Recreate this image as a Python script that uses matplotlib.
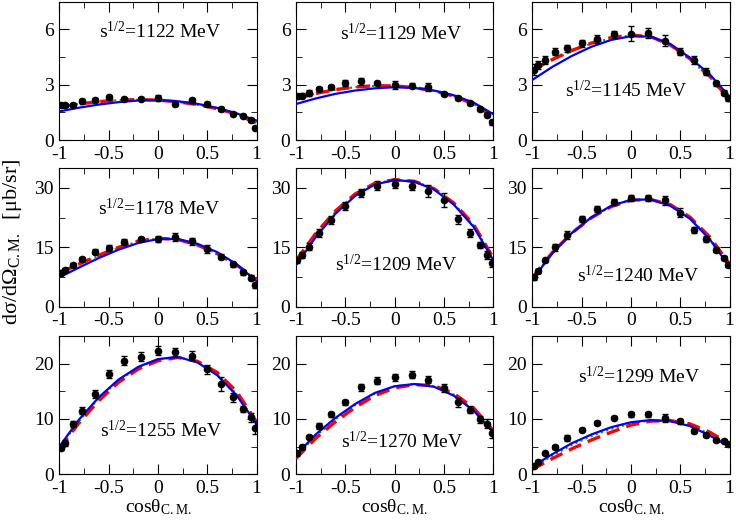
import matplotlib
matplotlib.use("Agg")
import matplotlib.pyplot as plt
from matplotlib.ticker import MultipleLocator

plt.rcParams['font.family'] = ['Liberation Serif', 'DejaVu Serif']
plt.rcParams['mathtext.fontset'] = 'stix'
plt.rcParams['axes.unicode_minus'] = False

# measured angles (cos theta) of the data points
cos_data = [-0.985, -0.940, -0.866, -0.766, -0.643, -0.500, -0.342, -0.174, 0.0,
            0.174, 0.342, 0.500, 0.643, 0.766, 0.866, 0.940, 0.985]
# grid of the model curves
cos_curve = [-1.0, -0.8, -0.6, -0.4, -0.2, 0.0, 0.2, 0.4, 0.6, 0.8, 1.0]

energies = [1122, 1129, 1145, 1178, 1209, 1240, 1255, 1270, 1299]

data_1122 = [1.91, 1.87, 1.91, 2.13, 2.18, 2.33, 2.24, 2.24, 2.27, 1.96, 2.15, 1.96, 1.67, 1.42, 1.31, 1.08, 0.67]
data_1129 = [2.36, 2.40, 2.55, 2.76, 2.87, 3.09, 3.18, 3.09, 3.00, 2.95, 2.87, 2.49, 2.27, 1.98, 1.67, 1.36, 0.95]
data_1145 = [3.80, 4.07, 4.34, 4.79, 4.97, 5.24, 5.46, 5.73, 5.75, 5.79, 5.37, 4.79, 4.34, 3.71, 3.07, 2.57, 2.26]
data_1178 = [8.6, 9.2, 10.6, 12.0, 13.9, 14.8, 16.4, 17.1, 17.1, 17.7, 16.5, 14.6, 12.6, 10.7, 8.7, 7.3, 5.4]
data_1209 = [11.7, 13.1, 15.2, 18.6, 22.0, 25.4, 28.7, 30.6, 31.1, 30.6, 29.2, 27.0, 22.1, 18.6, 15.6, 13.1, 11.0]
data_1240 = [7.4, 9.0, 11.8, 15.0, 18.2, 22.1, 24.7, 26.4, 27.5, 27.5, 26.9, 23.8, 19.3, 17.1, 14.4, 12.3, 10.6]
data_1255 = [4.84, 5.67, 9.13, 11.5, 14.5, 18.1, 20.5, 21.25, 22.3, 22.0, 21.4, 19.0, 16.3, 13.9, 11.8, 10.3, 8.4]
data_1270 = [3.77, 4.96, 6.75, 8.7, 10.8, 13.0, 15.7, 16.9, 17.5, 18.0, 17.1, 15.6, 13.0, 11.7, 9.94, 9.16, 7.37]
data_1299 = [1.5, 2.3, 3.76, 4.96, 6.57, 8.06, 9.31, 10.2, 10.8, 10.8, 10.2, 9.55, 7.8, 7.05, 6.15, 6.03, 5.55]

err_1122 = [0.12, 0.10, 0.10, 0.10, 0.10, 0.10, 0.10, 0.10, 0.15, 0.10, 0.12, 0.10, 0.10, 0.08, 0.08, 0.10, 0.10]
err_1129 = [0.12, 0.12, 0.15, 0.12, 0.12, 0.15, 0.18, 0.12, 0.22, 0.15, 0.22, 0.12, 0.12, 0.10, 0.10, 0.10, 0.12]
err_1145 = [0.3, 0.2, 0.2, 0.2, 0.2, 0.2, 0.2, 0.2, 0.4, 0.25, 0.3, 0.2, 0.2, 0.2, 0.15, 0.15, 0.15]
err_1178 = [0.6, 0.5, 0.5, 0.5, 0.6, 0.8, 0.6, 0.6, 0.7, 1.0, 0.8, 1.1, 0.6, 0.6, 0.6, 0.6, 0.6]
err_1209 = [0.7, 0.8, 0.8, 1.0, 1.0, 1.0, 1.0, 1.2, 1.2, 1.2, 1.6, 1.8, 1.2, 1.0, 0.8, 1.0, 1.0]
err_1240 = [0.6, 0.6, 0.6, 0.8, 1.0, 0.8, 0.8, 0.8, 0.8, 0.8, 1.2, 1.2, 0.8, 0.8, 0.6, 0.6, 0.6]
err_1255 = [0.5, 0.5, 0.5, 0.6, 0.8, 0.8, 0.8, 0.8, 0.8, 0.8, 0.8, 0.8, 1.2, 0.8, 0.6, 0.8, 1.2]
err_1270 = [0.4, 0.4, 0.4, 0.5, 0.5, 0.5, 0.6, 0.6, 0.6, 0.6, 0.7, 0.7, 0.8, 0.6, 0.6, 0.8, 0.8]
err_1299 = [0.3, 0.3, 0.3, 0.3, 0.5, 0.3, 0.3, 0.3, 0.4, 0.4, 0.7, 0.4, 0.3, 0.3, 0.3, 0.3, 0.3]

blue_1122 = [1.55, 1.75, 1.92, 2.05, 2.14, 2.16, 2.10, 1.96, 1.74, 1.44, 1.05]
blue_1129 = [1.95, 2.25, 2.50, 2.68, 2.80, 2.86, 2.82, 2.68, 2.42, 2.03, 1.40]
blue_1145 = [3.25, 3.95, 4.55, 5.05, 5.42, 5.62, 5.60, 5.20, 4.45, 3.55, 2.35]
blue_1178 = [7.4, 9.9, 12.3, 14.4, 16.1, 17.1, 17.1, 15.9, 13.8, 10.7, 6.4]
blue_1209 = [10.5, 17.6, 23.5, 28.0, 30.9, 32.0, 31.6, 29.6, 25.8, 20.2, 11.8]
blue_1240 = [6.8, 13.4, 18.6, 22.6, 25.5, 27.0, 27.1, 25.5, 22.2, 17.0, 10.1]
blue_1255 = [5.0, 9.9, 13.9, 17.1, 19.4, 20.8, 21.2, 20.2, 17.9, 14.2, 9.1]
blue_1270 = [3.5, 7.2, 10.2, 12.7, 14.7, 15.9, 16.3, 15.8, 14.2, 11.5, 7.6]
blue_1299 = [1.4, 3.6, 5.6, 7.2, 8.5, 9.4, 9.8, 9.6, 8.7, 7.0, 5.0]

red_1122 = [1.78, 1.95, 2.08, 2.16, 2.19, 2.16, 2.07, 1.92, 1.70, 1.40, 0.90]
red_1129 = [2.25, 2.52, 2.73, 2.87, 2.94, 2.93, 2.84, 2.66, 2.38, 1.95, 1.25]
red_1145 = [3.80, 4.35, 4.85, 5.25, 5.55, 5.68, 5.60, 5.15, 4.40, 3.45, 2.17]
red_1178 = [8.5, 10.8, 13.0, 15.0, 16.6, 17.3, 17.0, 15.6, 13.4, 10.5, 6.8]
red_1209 = [11.7, 18.5, 24.2, 28.5, 31.2, 32.1, 31.7, 29.8, 26.2, 20.8, 12.3]
red_1240 = [7.3, 13.6, 18.6, 22.5, 25.3, 26.9, 27.1, 25.8, 22.6, 17.6, 10.8]
red_1255 = [4.7, 9.3, 13.3, 16.6, 19.0, 20.5, 21.1, 20.4, 18.4, 14.9, 9.4]
red_1270 = [2.9, 6.5, 9.5, 12.1, 14.2, 15.6, 16.2, 16.0, 14.6, 12.0, 7.9]
red_1299 = [0.9, 2.8, 4.6, 6.2, 7.6, 8.9, 9.6, 9.7, 9.1, 7.6, 5.5]

green_1122 = [1.80, 1.96, 2.08, 2.16, 2.18, 2.15, 2.06, 1.91, 1.69, 1.40, 0.92]
green_1129 = [2.22, 2.50, 2.72, 2.86, 2.93, 2.92, 2.83, 2.65, 2.37, 1.95, 1.27]
green_1145 = [3.75, 4.30, 4.82, 5.22, 5.52, 5.66, 5.58, 5.12, 4.36, 3.40, 2.12]
green_1178 = [8.3, 10.6, 12.9, 14.9, 16.5, 17.2, 17.0, 15.6, 13.4, 10.5, 6.7]
green_1209 = [11.4, 18.2, 24.0, 28.4, 31.1, 32.1, 31.7, 29.8, 26.1, 20.6, 12.2]
green_1240 = [7.1, 13.5, 18.6, 22.5, 25.4, 27.0, 27.1, 25.7, 22.4, 17.3, 10.5]
green_1255 = [4.8, 9.6, 13.7, 16.9, 19.3, 20.7, 21.2, 20.3, 18.1, 14.5, 9.2]
green_1270 = [3.2, 6.9, 9.9, 12.5, 14.6, 15.9, 16.3, 15.9, 14.4, 11.7, 7.7]
green_1299 = [1.2, 3.3, 5.3, 6.9, 8.2, 9.2, 9.7, 9.6, 8.9, 7.3, 5.3]

data_all = [data_1122, data_1129, data_1145, data_1178, data_1209, data_1240, data_1255, data_1270, data_1299]
err_all = [err_1122, err_1129, err_1145, err_1178, err_1209, err_1240, err_1255, err_1270, err_1299]
blue_all = [blue_1122, blue_1129, blue_1145, blue_1178, blue_1209, blue_1240, blue_1255, blue_1270, blue_1299]
red_all = [red_1122, red_1129, red_1145, red_1178, red_1209, red_1240, red_1255, red_1270, red_1299]
green_all = [green_1122, green_1129, green_1145, green_1178, green_1209, green_1240, green_1255, green_1270, green_1299]

# per row: y limit, major and minor tick step
row_ylim = [7.5, 35, 25]
row_major = [3, 15, 10]
row_minor = [1.5, 7.5, 5]

# label positions in data coords
label_pos = [(0.02, 5.9), (0.07, 5.75), (-0.05, 2.7),
             (0.01, 24.7), (0.02, 10.6), (0.07, 7.8),
             (0.03, 8.0), (0.08, 5.85), (0.08, 17.6)]

fig = plt.figure(figsize=(7.36, 5.24), dpi=100)
lefts = [0.0806, 0.4022, 0.7232]
bottoms = [0.7328, 0.4147, 0.0948]
w, h = 0.268, 0.2643

for i in range(9):
    r, c = divmod(i, 3)
    ax = fig.add_axes([lefts[c], bottoms[r], w, h])
    ax.plot(cos_curve, green_all[i], color='#1a9a1a', lw=1.5, ls=':', zorder=2)
    ax.plot(cos_curve, red_all[i], color='red', lw=2.4, ls=(0, (4, 2.2)), zorder=3)
    ax.plot(cos_curve, blue_all[i], color='blue', lw=1.6, zorder=4)
    ax.errorbar(cos_data, data_all[i], yerr=err_all[i], fmt='o', color='black',
                ms=4.5, elinewidth=1, capsize=2.2, capthick=1, zorder=5)
    x0, y0 = label_pos[i]
    ax.text(x0, y0, r'$\mathregular{s^{1/2}}$=%d MeV' % energies[i],
            ha='center', va='center', fontsize=14)
    ax.set_xlim(-1, 1)
    ax.set_ylim(0, row_ylim[r])
    ax.xaxis.set_minor_locator(MultipleLocator(0.25))
    ax.yaxis.set_major_locator(MultipleLocator(row_major[r]))
    ax.yaxis.set_minor_locator(MultipleLocator(row_minor[r]))
    ax.set_xticks([-1, -0.5, 0, 0.5, 1])
    ax.set_xticklabels(['-1', '-0.5', '0', '0.5', '1'])
    ax.tick_params(which='both', direction='in', top=True, right=True, labelsize=14)
    ax.tick_params(axis='x', pad=4)
    ax.tick_params(axis='y', pad=4)
    ax.tick_params(which='major', length=7)
    ax.tick_params(which='minor', length=4)
    if r == 2:
        ax.set_xlabel(r'cosθ$_{\mathregular{C.M.}}$', fontsize=14, labelpad=0)

fig.text(0.017, 0.538, r'dσ/dΩ$_{\mathregular{C.M.}}$  [μb/sr]', rotation=90,
         ha='center', va='center', fontsize=16)

fig.savefig('out.png', dpi=100)
